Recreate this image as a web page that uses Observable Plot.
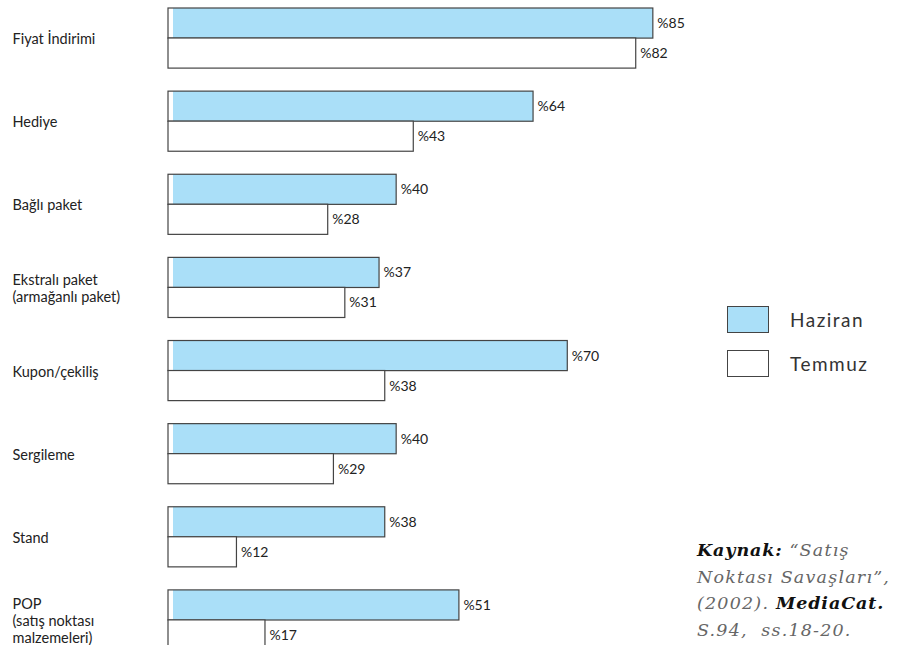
<!DOCTYPE html>
<html>
<head>
<meta charset="utf-8">
<script src="https://cdn.jsdelivr.net/npm/d3@7"></script>
<script src="https://cdn.jsdelivr.net/npm/@observablehq/plot@0.6"></script>
<style>
  html, body { margin: 0; padding: 0; background: #fff; overflow: hidden; width: 899px; height: 645px; }
  #wrap { position: relative; width: 899px; height: 645px; }
  #chart { position: absolute; left: 0; top: 0; }
  #legend { position: absolute; left: 727px; top: 305px; font-family: Lato, "Open Sans", sans-serif; font-size: 19px; letter-spacing: 1.5px; color: #333; }
  .lg { display: flex; align-items: center; height: 28px; margin-bottom: 16px; }
  .sw { width: 42px; height: 27px; border: 1.5px solid #444; box-sizing: border-box; margin-right: 21px; }
  #caption { position: absolute; left: 697px; top: 537px; font-family: "DejaVu Serif", "Liberation Serif", serif; font-style: italic; font-size: 17.5px; letter-spacing: 1.2px; line-height: 26.5px; color: #666; white-space: nowrap; }
  #caption b { color: #111; font-weight: bold; letter-spacing: 0.9px; }
</style>
</head>
<body>
<div id="wrap">
  <div id="chart"></div>
  <div id="legend"></div>
  <div id="caption"></div>
</div>
<script>
const categories = [
  "Fiyat İndirimi",
  "Hediye",
  "Bağlı paket",
  "Ekstralı paket\n(armağanlı paket)",
  "Kupon/çekiliş",
  "Sergileme",
  "Stand",
  "POP\n(satış noktası\nmalzemeleri)"
];
const haziran = [85, 64, 40, 37, 70, 40, 38, 51];
const temmuz = [82, 43, 28, 31, 38, 29, 12, 17];
const seriesNames = ["Haziran", "Temmuz"];
const seriesColors = ["#aadff8", "#ffffff"];

const dH = categories.map((c, i) => ({category: c, value: haziran[i]}));
const dT = categories.map((c, i) => ({category: c, value: temmuz[i]}));

const half = 30;
const labelFont = "Lato, 'Open Sans', sans-serif";

const chart = Plot.plot({
  width: 899,
  height: 680,
  marginLeft: 168,
  marginRight: 160.6,
  marginTop: 8,
  marginBottom: 30,
  x: {domain: [0, 100], axis: null},
  y: {domain: categories, paddingInner: 0.277, paddingOuter: 0, align: 0, round: false, axis: null},
  style: {fontFamily: labelFont, background: "#fff"},
  marks: [
    Plot.barX(dH, {x: "value", y: "category", fill: seriesColors[0], insetBottom: half, insetLeft: 5}),
    Plot.barX(dH, {x: "value", y: "category", fill: "none", stroke: "#444", strokeWidth: 1.2, insetBottom: half}),
    Plot.barX(dT, {x: "value", y: "category", fill: seriesColors[1], stroke: "#444", strokeWidth: 1.2, insetTop: half}),
    Plot.text(dH, {x: "value", y: "category", text: d => "%" + d.value, dx: 4, dy: -half / 2, textAnchor: "start", fontSize: 14, fill: "#222"}),
    Plot.text(dT, {x: "value", y: "category", text: d => "%" + d.value, dx: 4, dy: half / 2, textAnchor: "start", fontSize: 14, fill: "#222"}),
    Plot.text(categories, {y: d => d, text: d => d, frameAnchor: "left", dx: -156, textAnchor: "start", fontSize: 14.5, lineHeight: 1.17, fill: "#222", style: "letter-spacing:0.8px"})
  ]
});
document.getElementById("chart").appendChild(chart);

const legend = document.getElementById("legend");
seriesNames.forEach((n, i) => {
  const row = document.createElement("div");
  row.className = "lg";
  const sw = document.createElement("div");
  sw.className = "sw";
  sw.style.background = seriesColors[i];
  const t = document.createElement("span");
  t.textContent = n;
  row.appendChild(sw);
  row.appendChild(t);
  legend.appendChild(row);
});

document.getElementById("caption").innerHTML =
  "<b>Kaynak:</b> “Satış<br>Noktası Savaşları”,<br>(2002). <b>MediaCat.</b><br>S.94,&nbsp; ss.18-20.";
</script>
</body>
</html>
